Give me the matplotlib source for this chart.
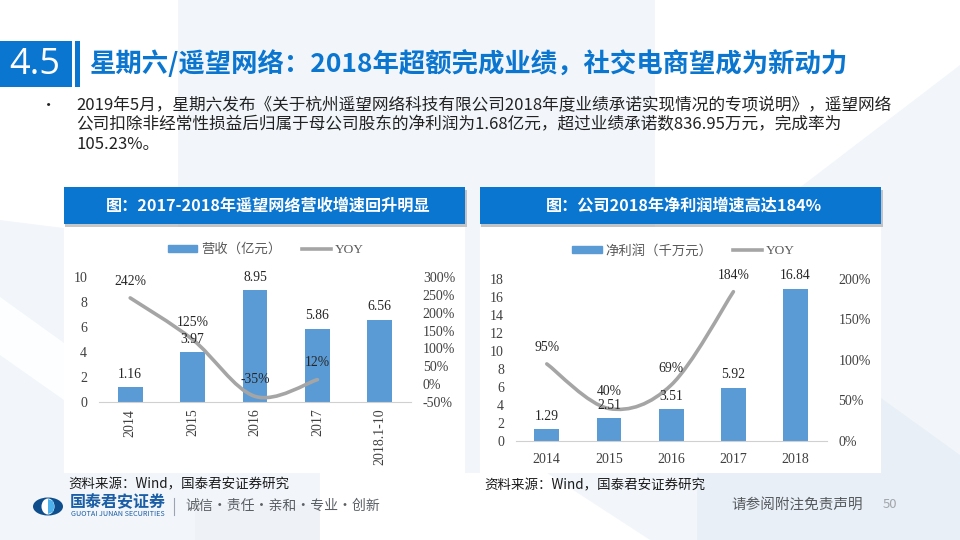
import matplotlib

matplotlib.use("Agg")
import matplotlib.pyplot as plt
from matplotlib.lines import Line2D
from matplotlib.patches import Ellipse, PathPatch, Polygon, Rectangle
from matplotlib.path import Path
import numpy as np

plt.rcParams["font.family"] = ["Noto Sans CJK SC", "DejaVu Sans"]

# left chart
rev_years = ["2014", "2015", "2016", "2017", "2018.1-10"]
rev_values = [1.16, 3.97, 8.95, 5.86, 6.56]
rev_yoy = [242, 125, -35, 12]
rev_ticks = [0, 2, 4, 6, 8, 10]
rev_yoy_ticks = [-50, 0, 50, 100, 150, 200, 250, 300]

# right chart
profit_years = ["2014", "2015", "2016", "2017", "2018"]
profit_values = [1.29, 2.51, 3.51, 5.92, 16.84]
profit_yoy = [95, 40, 69, 184]
profit_ticks = [0, 2, 4, 6, 8, 10, 12, 14, 16, 18]
profit_yoy_ticks = [0, 50, 100, 150, 200]

title = "星期六/遥望网络：2018年超额完成业绩，社交电商望成为新动力"
body_lines = [
    "2019年5月，星期六发布《关于杭州遥望网络科技有限公司2018年度业绩承诺实现情况的专项说明》，遥望网络",
    "公司扣除非经常性损益后归属于母公司股东的净利润为1.68亿元，超过业绩承诺数836.95万元，完成率为",
    "105.23%。",
]
source = "资料来源：Wind，国泰君安证券研究"

BLUE = "#0B76D0"
BAR = "#5B9BD5"
GRAY_LINE = "#A5A5A5"
PALE = "#F2F6FA"
PALE_DARK = "#E8EFF6"
W, H = 960, 540
SERIF = ["Liberation Serif", "Noto Sans CJK SC"]


def smooth_path(xs, ys):
    # catmull-rom segments as beziers, like the smoothed line in office charts
    pts = np.column_stack((xs, ys)).astype(float)
    verts = [pts[0]]
    codes = [Path.MOVETO]
    for i in range(len(pts) - 1):
        before = pts[max(i - 1, 0)]
        after = pts[min(i + 2, len(pts) - 1)]
        verts.append(pts[i] + (pts[i + 1] - before) / 6)
        verts.append(pts[i + 1] - (after - pts[i]) / 6)
        verts.append(pts[i + 1])
        codes += [Path.CURVE4] * 3
    return Path(verts, codes)


def draw_chart(fig, box, cats, values, yoy, ticks, yoy_ticks, bar_name, rotate, legend_x):
    left, top, right, bottom = box
    rect = [left / W, 1 - bottom / H, (right - left) / W, (bottom - top) / H]
    ax = fig.add_axes(rect)
    ax.patch.set_alpha(0)
    x = np.arange(len(cats))
    ax.bar(x, values, width=0.4, color=BAR, zorder=2)
    ax.set_xlim(-0.5, len(cats) - 0.5)
    ax.set_ylim(ticks[0], ticks[-1])
    ax.set_yticks(ticks)
    ax.set_xticks(x, cats, rotation=90 if rotate else 0)
    for name in ("top", "left", "right"):
        ax.spines[name].set_visible(False)
    ax.spines["bottom"].set_color("#D0D0D0")
    ax.tick_params(length=0, labelsize=10, labelcolor="#404040", labelfontfamily=SERIF)
    ax.tick_params(axis="y", pad=8.5)
    ax.tick_params(axis="x", pad=5 if rotate else 8.5)

    ax2 = ax.twinx()
    ax2.patch.set_alpha(0)
    ax2.set_ylim(yoy_ticks[0], yoy_ticks[-1])
    ax2.set_yticks(yoy_ticks, [f"{t}%" for t in yoy_ticks])
    for spine in ax2.spines.values():
        spine.set_visible(False)
    ax2.tick_params(length=0, labelsize=10, labelcolor="#404040", labelfontfamily=SERIF, pad=8.5)
    ax2.add_patch(PathPatch(smooth_path(x[: len(yoy)], yoy), fill=False,
                            edgecolor=GRAY_LINE, linewidth=2.6, capstyle="round", zorder=3))

    scale = (yoy_ticks[-1] - yoy_ticks[0]) / (ticks[-1] - ticks[0])
    for xi, val in zip(x, values):
        ax2.annotate(f"{val:.2f}", (xi, yoy_ticks[0] + (val - ticks[0]) * scale),
                     xytext=(0, 9.5), textcoords="offset points", ha="center", va="center",
                     fontsize=9.8, family=SERIF, color="#262626", zorder=5)
    for xi, val in zip(x, yoy):
        ax2.annotate(f"{val}%", (xi, val), xytext=(0, 12), textcoords="offset points",
                     ha="center", va="center", fontsize=9.8, family=SERIF,
                     color="#262626", zorder=5)

    handles = [
        Rectangle((0, 0), 1, 1, color=BAR),
        Line2D([0], [0], color=GRAY_LINE, linewidth=2.6),
    ]
    ax2.legend(handles, [bar_name, "YOY"], loc="lower center", ncol=2, frameon=False,
               bbox_to_anchor=(legend_x, 1.0), prop={"family": SERIF, "size": 9.6},
               labelcolor="#595959", handlelength=2.2, handleheight=0.45,
               columnspacing=1.5, handletextpad=0.3, borderaxespad=1.2)


fig = plt.figure(figsize=(W / 100, H / 100), dpi=100, facecolor="white")

# page furniture in pixel coordinates
bg = fig.add_axes([0, 0, 1, 1])
bg.set_xlim(0, W)
bg.set_ylim(H, 0)
bg.axis("off")
bg.add_patch(Rectangle((178, 0), 477, 473, color=PALE, lw=0, zorder=0))
bg.add_patch(Polygon([(0, 220), (64, 228), (64, 540), (0, 540)], color=PALE, lw=0, zorder=0))
bg.add_patch(Polygon([(0, 297), (64, 343), (64, 400), (0, 355)], color="#FDFEFF", lw=0, zorder=0))
bg.add_patch(Polygon([(960, 65), (790, 195), (790, 480), (960, 480)], color=PALE, lw=0, zorder=0))
bg.add_patch(Rectangle((64, 473), 256, 67, color=PALE, lw=0, zorder=0))
bg.add_patch(Polygon([(547, 473), (697, 473), (697, 540), (650, 540)], color=PALE, lw=0, zorder=0))
bg.add_patch(Rectangle((195, 505), 125, 35, color="#EEF2F7", lw=0, zorder=0))
bg.add_patch(Polygon([(881, 398), (960, 455), (960, 540), (697, 540), (697, 473), (881, 473)],
                     color=PALE_DARK, lw=0, zorder=0))

bg.add_patch(Rectangle((0, 41), 72, 46, color=BLUE, lw=0))
bg.add_patch(Rectangle((75, 41), 5, 46, color=BLUE, lw=0))
bg.text(35, 65, "4.5", color="white", fontsize=26, family="Open Sans", ha="center", va="center")
bg.text(89, 64, title, color=BLUE, fontsize=19, fontweight="bold", va="center")

bg.text(49, 105, "•", color="#222222", fontsize=11, ha="center", va="center")
for y, line in zip([105, 125, 144], body_lines):
    bg.text(76, y, line, color="#222222", fontsize=12, va="center")

for left, header, text_x in [
    (64, "图：2017-2018年遥望网络营收增速回升明显", 268),
    (480, "图：公司2018年净利润增速高达184%", 684),
]:
    bg.add_patch(Rectangle((left + 1, 190), 402, 37, color="#9A9A9A", alpha=0.55, lw=0))
    bg.add_patch(Rectangle((left, 187), 401, 37, color=BLUE, lw=0))
    bg.add_patch(Rectangle((left, 227), 401, 246, color="white", lw=0))
    bg.text(text_x, 205.5, header, color="white", fontsize=11.65, fontweight="bold",
            ha="center", va="center")

bg.text(68, 484, source, color="#1A1A1A", fontsize=9.7, va="center")
bg.text(484, 485, source, color="#1A1A1A", fontsize=9.7, va="center")

# logo and footer
bg.add_patch(Ellipse((48, 506.5), 30, 18, color="#0F4E8C", lw=0))
bg.add_patch(Ellipse((48, 506.5), 13, 16, color="white", lw=0))
bg.add_patch(Polygon([(48, 499), (53, 501), (54.5, 506.5), (53, 512), (48, 514)], color="#4DB2EC", lw=0))
bg.text(70, 502, "国泰君安证券", color="#1B5EA6", fontsize=11.5, fontweight="bold", va="center")
bg.text(71, 514.5, "GUOTAI JUNAN SECURITIES", color="#1B5EA6", fontsize=5.2, va="center")
bg.plot([174, 174], [498, 515], color="#9AA5B1", linewidth=0.8)
bg.text(185, 506, "诚信·责任·亲和·专业·创新", color="#5A5F66", fontsize=10, va="center")
bg.text(731, 505, "请参阅附注免责声明", color="#55595E", fontsize=10.5, va="center")
bg.text(883, 505, "50", color="#A3A6AA", fontsize=9.5, va="center")

draw_chart(fig, (99, 277.3, 411, 401.7), rev_years, rev_values, rev_yoy, rev_ticks,
           rev_yoy_ticks, "营收（亿元）", True, 0.535)
draw_chart(fig, (515.7, 278.7, 826.7, 441), profit_years, profit_values, profit_yoy,
           profit_ticks, profit_yoy_ticks, "净利润（千万元）", False, 0.54)

fig.savefig("out.png", dpi=100)
plt.close(fig)
